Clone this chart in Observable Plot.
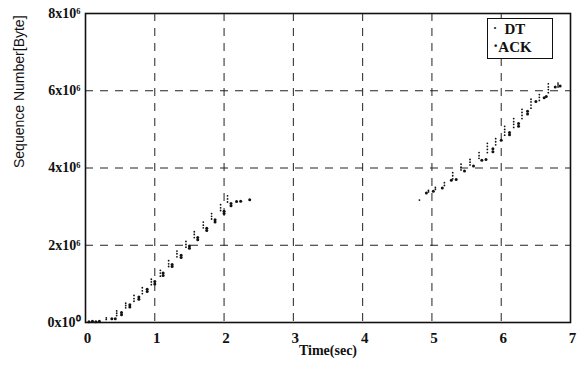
<!DOCTYPE html>
<html>
<head>
<meta charset="utf-8">
<script src="https://cdn.jsdelivr.net/npm/d3@7"></script>
<script src="https://cdn.jsdelivr.net/npm/@observablehq/plot@0.6"></script>
<style>
  body { margin: 0; background: #fff; }
  #wrap { position: relative; width: 579px; height: 370px; }
  #legend {
    position: absolute; left: 487px; top: 18px; width: 64px; height: 39px;
    border: 1.3px solid #111; background: #fff;
    font-family: "Liberation Serif", serif; font-weight: bold; font-size: 15px; color: #111;
  }
  #legend div { position: absolute; left: 5px; white-space: nowrap; }
</style>
</head>
<body>
<div id="wrap">
  <div id="chart"></div>
  <div id="legend">
    <div style="top:2px;"><span style="font-size:12px;position:relative;top:-2px;">&middot;</span>&nbsp; DT</div>
    <div style="top:19px;"><span style="font-size:16px;position:relative;top:-1px;">&middot;</span>ACK</div>
  </div>
</div>
<script>
// time (sec)
const xTicks = [0, 1, 2, 3, 4, 5, 6, 7];
// sequence number, units of 10^6 bytes
const yTicks = [0, 2, 4, 6, 8];

// DT points: time (sec) and sequence number (x10^6 byte)
const dtTime = [
  0.30, 0.30,
  0.45, 0.45, 0.45,
  0.58, 0.58, 0.58,
  0.70, 0.70, 0.70,
  0.82, 0.82, 0.82,
  0.95, 0.95, 0.95,
  1.08, 1.08, 1.08,
  1.20, 1.20, 1.20,
  1.32, 1.32, 1.32,
  1.45, 1.45, 1.45,
  1.57, 1.57, 1.57,
  1.70, 1.70, 1.70,
  1.82, 1.82, 1.82,
  1.95, 1.95, 1.95,
  2.05, 2.05, 2.05,
  4.82,
  4.95, 4.95,
  5.05, 5.05,
  5.18, 5.18,
  5.30, 5.30, 5.30,
  5.42, 5.42, 5.42,
  5.55, 5.55, 5.55,
  5.68, 5.68, 5.68,
  5.80, 5.80, 5.80, 5.80,
  5.92, 5.92, 5.92,
  6.05, 6.05, 6.05, 6.05,
  6.18, 6.18, 6.18, 6.18,
  6.30, 6.30, 6.30, 6.30,
  6.43, 6.43, 6.43, 6.43,
  6.55, 6.55, 6.55,
  6.68, 6.68, 6.68, 6.68,
  6.82, 6.82, 6.82
];
const dtSeq = [
  0.08, 0.12,
  0.18, 0.24, 0.30,
  0.38, 0.44, 0.50,
  0.55, 0.62, 0.70,
  0.75, 0.82, 0.90,
  0.98, 1.05, 1.12,
  1.20, 1.28, 1.35,
  1.45, 1.52, 1.60,
  1.70, 1.78, 1.85,
  1.95, 2.02, 2.10,
  2.20, 2.28, 2.35,
  2.45, 2.52, 2.60,
  2.68, 2.75, 2.82,
  2.90, 2.97, 3.05,
  3.12, 3.20, 3.28,
  3.17,
  3.38, 3.42,
  3.45, 3.50,
  3.55, 3.62,
  3.72, 3.80, 3.88,
  3.95, 4.02, 4.10,
  4.08, 4.15, 4.22,
  4.25, 4.32, 4.40,
  4.40, 4.48, 4.56, 4.64,
  4.60, 4.68, 4.76,
  4.85, 4.93, 5.00, 5.08,
  5.05, 5.13, 5.20, 5.28,
  5.28, 5.36, 5.44, 5.52,
  5.55, 5.63, 5.71, 5.78,
  5.75, 5.83, 5.90,
  5.95, 6.03, 6.10, 6.18,
  6.10, 6.15, 6.20
];

// ACK points: time (sec) and sequence number (x10^6 byte)
const ackTime = [
  0.05, 0.10, 0.15, 0.20,
  0.38, 0.43,
  0.52, 0.52,
  0.64, 0.64,
  0.77, 0.77,
  0.89, 0.89,
  1.00, 1.00,
  1.12, 1.12,
  1.25, 1.25,
  1.38, 1.38,
  1.50, 1.50,
  1.62, 1.62,
  1.75, 1.75,
  1.87, 1.87,
  2.00, 2.00,
  2.10, 2.10,
  2.18, 2.24, 2.37,
  4.92, 5.02, 5.15,
  5.28, 5.35,
  5.47, 5.60,
  5.72, 5.78,
  5.88, 5.88,
  6.00,
  6.12, 6.12,
  6.25, 6.25,
  6.38, 6.38,
  6.50,
  6.62, 6.65,
  6.78, 6.85
];
const ackSeq = [
  0.02, 0.03, 0.02, 0.03,
  0.10, 0.10,
  0.20, 0.26,
  0.40, 0.46,
  0.60, 0.66,
  0.80, 0.86,
  1.00, 1.06,
  1.22, 1.28,
  1.45, 1.50,
  1.68, 1.74,
  1.92, 1.98,
  2.14, 2.20,
  2.38, 2.44,
  2.60, 2.66,
  2.82, 2.88,
  3.02, 3.08,
  3.13, 3.14, 3.18,
  3.35, 3.40, 3.48,
  3.68, 3.70,
  3.92, 4.05,
  4.20, 4.22,
  4.42, 4.50,
  4.72,
  4.86, 4.92,
  5.08, 5.15,
  5.40, 5.47,
  5.72,
  5.82, 5.85,
  6.10, 6.12
];

const dt = dtTime.map((t, i) => ({t, s: dtSeq[i]}));
const ack = ackTime.map((t, i) => ({t, s: ackSeq[i]}));

const sup = {"0": "\u2070", "6": "\u2076"};
const serif = "'Liberation Serif', 'Times New Roman', serif";

const chart = Plot.plot({
  width: 579,
  height: 370,
  marginLeft: 85,
  marginRight: 9,
  marginTop: 13,
  marginBottom: 48,
  style: {fontFamily: serif, fontSize: "14px", color: "#111", background: "#fff"},
  x: {domain: [0, 7], ticks: xTicks},
  y: {domain: [0, 8], ticks: yTicks},
  marks: [
    Plot.gridX(xTicks, {stroke: "#222", strokeOpacity: 1, strokeWidth: 1, strokeDasharray: "8,7"}),
    Plot.gridY(yTicks, {stroke: "#222", strokeOpacity: 1, strokeWidth: 1, strokeDasharray: "8,7"}),
    Plot.axisX(xTicks, {tickSize: 0, tickPadding: 10, dx: 2, fontWeight: "bold", fontSize: 15, label: null}),
    Plot.axisY(yTicks, {tickSize: 0, tickPadding: 5, fontSize: 14, fontWeight: "bold", label: null,
      tickFormat: d => d === 0 ? "0x10" + sup["0"] : d + "x10" + sup["6"]}),
    Plot.text(["Time(sec)"], {frameAnchor: "bottom", dy: 32, fontWeight: "bold", fontSize: 14, fontFamily: serif}),
    Plot.text(["Sequence Number[Byte]"], {frameAnchor: "left", dx: -66, rotate: -90, fontSize: 14,
      fontFamily: "'Liberation Sans Narrow', 'Liberation Sans', sans-serif"}),
    Plot.dot(dt, {x: "t", y: "s", r: 0.9, fill: "#111", stroke: "none"}),
    Plot.dot(ack, {x: "t", y: "s", r: 1.5, fill: "#111", stroke: "none"}),
    Plot.frame({stroke: "#111", strokeWidth: 1.6})
  ]
});
document.getElementById("chart").appendChild(chart);
</script>
</body>
</html>
